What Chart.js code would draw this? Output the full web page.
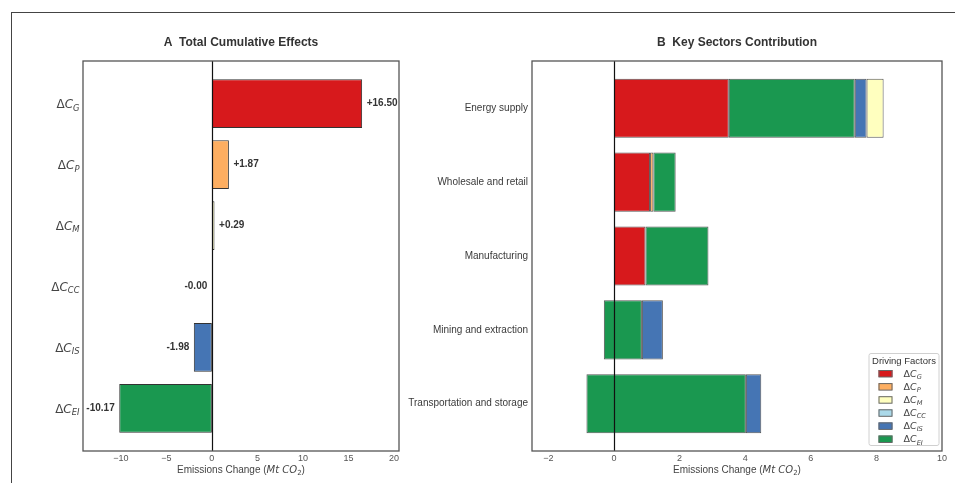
<!DOCTYPE html>
<html>
<head>
<meta charset="utf-8">
<title>Decomposition of emissions change</title>
<script src="https://cdn.jsdelivr.net/npm/chart.js@4.4.0/dist/chart.umd.min.js"></script>
<style>
  body { margin: 0; background: #fff; }
  #fig { position: relative; width: 955px; height: 483px; overflow: hidden; background: #fff; }
  #frame { position: absolute; left: 11px; top: 12px; right: -10px; bottom: -10px;
           border-top: 1.5px solid #444; border-left: 1.5px solid #444; }
  #effects { position: absolute; left: 0; top: 0; width: 470px; height: 483px; }
  #sectors { position: absolute; left: 380px; top: 0; width: 575px; height: 483px; }
</style>
</head>
<body>
<div id="fig">
  <div id="frame"></div>
  <canvas id="effects" width="470" height="483"></canvas>
  <canvas id="sectors" width="575" height="483"></canvas>
</div>
<script>
// ---- panel A: total cumulative effect per driving factor (Mt CO2)
const factorSubs = ['G', 'P', 'M', 'CC', 'IS', 'EI'];
const effectValues = [16.50, 1.87, 0.29, -0.004, -1.98, -10.17];
const effectTicks = [-10, -5, 0, 5, 10, 15, 20];

// ---- panel B: sector contributions, segments stacked from a start value
const sectors = ['Energy supply', 'Wholesale and retail', 'Manufacturing',
                 'Mining and extraction', 'Transportation and storage'];
const sectorStart = [0, 0, 0, -0.31, -0.84];
const sectorG  = [3.50, 1.10, 0.96, 0, 0];
const sectorP  = [0, 0.10, 0, 0, 0];
const sectorM  = [0.52, 0, 0, 0, 0];
const sectorCC = [0, 0, 0, 0, 0];
const sectorIS = [0.36, 0, 0, 0.64, 0.47];
const sectorEI = [3.84, 0.68, 1.92, 1.16, 4.86];
const sectorTicks = [-2, 0, 2, 4, 6, 8, 10];

// order in which segments are laid end to end inside a sector bar
const stackOrder = ['G', 'P', 'EI', 'IS', 'M', 'CC'];

const factorColors = {
  G: '#d7191c', P: '#fdae61', M: '#ffffbf', CC: '#abd9e9', IS: '#4575b4', EI: '#1a9850'
};

const SANS = '"Liberation Sans", Arial, sans-serif';
const MATH = '"DejaVu Sans", sans-serif';

// ΔC with an italic subscript, like mathtext
function drawDeltaC(ctx, sub, x, y, size, align, color) {
  const subSize = size * 0.7;
  ctx.font = `${size}px ${MATH}`;
  const wD = ctx.measureText('Δ').width;
  ctx.font = `italic ${size}px ${MATH}`;
  const wC = ctx.measureText('C').width;
  ctx.font = `italic ${subSize}px ${MATH}`;
  const wS = ctx.measureText(sub).width;
  const left = align === 'right' ? x - (wD + wC + wS) : x;
  const base = y + size * 0.36;
  ctx.fillStyle = color;
  ctx.textAlign = 'left';
  ctx.textBaseline = 'alphabetic';
  ctx.font = `${size}px ${MATH}`;
  ctx.fillText('Δ', left, base);
  ctx.font = `italic ${size}px ${MATH}`;
  ctx.fillText('C', left + wD, base);
  ctx.font = `italic ${subSize}px ${MATH}`;
  ctx.fillText(sub, left + wD + wC, base + size * 0.22);
}

function drawAxisTitle(ctx, cx, y) {
  const parts = [
    { t: 'Emissions Change (', f: `10px ${SANS}`, dy: 0 },
    { t: 'Mt CO', f: `italic 10px ${MATH}`, dy: 0 },
    { t: '2', f: `7px ${MATH}`, dy: 2.5 },
    { t: ')', f: `10px ${SANS}`, dy: 0 }
  ];
  let total = 0;
  parts.forEach(p => { ctx.font = p.f; p.w = ctx.measureText(p.t).width; total += p.w; });
  let x = cx - total / 2;
  ctx.fillStyle = '#444';
  ctx.textAlign = 'left';
  ctx.textBaseline = 'alphabetic';
  parts.forEach(p => {
    ctx.font = p.f;
    ctx.fillText(p.t, x, y + 3.5 + p.dy);
    x += p.w;
  });
}

// frame, zero line, titles and category labels for one panel
function makeDecor(title, drawLabels) {
  return {
    id: 'panelDecor',
    afterDatasetsDraw(chart) {
      const { ctx, chartArea: a } = chart;
      const x0 = Math.round(chart.scales.x.getPixelForValue(0)) + 0.5;
      ctx.save();
      ctx.strokeStyle = '#111';
      ctx.lineWidth = 1.2;
      ctx.beginPath();
      ctx.moveTo(x0, a.top);
      ctx.lineTo(x0, a.bottom);
      ctx.stroke();

      ctx.strokeStyle = '#555';
      ctx.lineWidth = 1.3;
      ctx.strokeRect(a.left, a.top, a.right - a.left, a.bottom - a.top);

      ctx.fillStyle = '#333';
      ctx.font = `bold 12px ${SANS}`;
      ctx.textAlign = 'center';
      ctx.textBaseline = 'middle';
      ctx.fillText(title, (a.left + a.right) / 2, 42.5);

      drawAxisTitle(ctx, (a.left + a.right) / 2, 469);
      drawLabels(chart);
      ctx.restore();
    }
  };
}

function xAxis(min, max, ticks) {
  return {
    type: 'linear',
    min: min,
    max: max,
    grid: { display: false, drawTicks: false },
    border: { display: false },
    afterBuildTicks: scale => { scale.ticks = ticks.map(v => ({ value: v })); },
    afterFit: scale => { scale.height = 32; },
    ticks: {
      padding: 2,
      color: '#555',
      font: { family: SANS, size: 9 },
      callback: v => String(v).replace('-', '\u2212')
    }
  };
}

function yAxis(min, max, count) {
  return {
    type: 'linear',
    display: false,
    reverse: true,
    offset: false,
    grace: 0,
    min: min,
    max: max,
    afterBuildTicks: scale => { scale.ticks = Array.from({ length: count }, (_, i) => ({ value: i })); }
  };
}

// ---------- panel A
const effectDecor = makeDecor('A  Total Cumulative Effects', chart => {
  const { ctx, chartArea: a, scales } = chart;
  effectValues.forEach((v, i) => {
    const y = scales.y.getPixelForValue(i);
    drawDeltaC(ctx, factorSubs[i], a.left - 3.5, y, 12, 'right', '#444');
    const text = v >= 0 ? '+' + v.toFixed(2) : v.toFixed(2);
    const x = scales.x.getPixelForValue(v + (v >= 0 ? 0.5 : -0.5));
    ctx.fillStyle = '#333';
    ctx.font = `bold 10px ${SANS}`;
    ctx.textAlign = v >= 0 ? 'left' : 'right';
    ctx.textBaseline = 'middle';
    ctx.fillText(text, x, y);
  });
});

new Chart(document.getElementById('effects'), {
  type: 'bar',
  data: {
    datasets: [{
      data: effectValues.map((v, i) => ({ x: v, y: i })),
      backgroundColor: factorSubs.map(s => factorColors[s]),
      borderColor: '#333',
      borderWidth: 1,
      borderSkipped: false,
      categoryPercentage: 1,
      barPercentage: 0.8
    }]
  },
  options: {
    indexAxis: 'y',
    responsive: false,
    animation: false,
    layout: { padding: { left: 83, right: 71, top: 61, bottom: 0 } },
    plugins: { legend: { display: false }, tooltip: { enabled: false } },
    scales: {
      x: xAxis(-14.15, 20.55, effectTicks),
      y: yAxis(-0.7, 5.7, factorSubs.length)
    }
  },
  plugins: [effectDecor]
});

// ---------- panel B
const sectorWidths = { G: sectorG, P: sectorP, M: sectorM, CC: sectorCC, IS: sectorIS, EI: sectorEI };
const segments = {};
const running = sectorStart.slice();
stackOrder.forEach(key => {
  segments[key] = [];
  sectorWidths[key].forEach((w, i) => {
    if (w !== 0) segments[key].push({ x: [running[i], running[i] + w], y: i });
    running[i] += w;
  });
});

const sectorDecor = makeDecor('B  Key Sectors Contribution', chart => {
  const { ctx, chartArea: a, scales } = chart;
  ctx.fillStyle = '#3a3a3a';
  ctx.font = `10px ${SANS}`;
  ctx.textAlign = 'right';
  ctx.textBaseline = 'middle';
  sectors.forEach((s, i) => ctx.fillText(s, a.left - 4, scales.y.getPixelForValue(i)));
});

const legendBox = {
  id: 'legendBox',
  afterDraw(chart) {
    const { ctx, chartArea: a } = chart;
    const bw = 70, bh = 92;
    const bx = a.right - 73.5, by = a.bottom - 98;
    ctx.save();
    ctx.fillStyle = 'rgba(255,255,255,0.85)';
    ctx.strokeStyle = '#d0d0d0';
    ctx.lineWidth = 1;
    ctx.beginPath();
    ctx.roundRect(bx + 0.5, by + 0.5, bw, bh, 2);
    ctx.fill();
    ctx.stroke();

    ctx.fillStyle = '#333';
    ctx.font = `9.5px ${SANS}`;
    ctx.textAlign = 'center';
    ctx.textBaseline = 'middle';
    ctx.fillText('Driving Factors', bx + bw / 2 + 0.5, by + 8.5);

    chart.data.datasets.forEach((ds, i) => {
      const y = by + 20.5 + i * 13.1;
      ctx.fillStyle = ds.backgroundColor;
      ctx.fillRect(bx + 10, y - 3.5, 14, 7);
      ctx.strokeStyle = '#666';
      ctx.strokeRect(bx + 10.5, y - 3, 13, 6.5);
      drawDeltaC(ctx, ds.label, bx + 35, y, 9.5, 'left', '#444');
    });
    ctx.restore();
  }
};

new Chart(document.getElementById('sectors'), {
  type: 'bar',
  data: {
    datasets: factorSubs.map(key => ({
      label: key,
      data: segments[key],
      backgroundColor: factorColors[key],
      borderColor: '#555',
      borderWidth: 1,
      borderSkipped: false,
      grouped: false,
      categoryPercentage: 1,
      barPercentage: 0.8
    }))
  },
  options: {
    indexAxis: 'y',
    responsive: false,
    animation: false,
    layout: { padding: { left: 152, right: 13, top: 61, bottom: 0 } },
    plugins: { legend: { display: false }, tooltip: { enabled: false } },
    scales: {
      x: xAxis(-2.5, 10, sectorTicks),
      y: yAxis(-0.64, 4.64, sectors.length)
    }
  },
  plugins: [sectorDecor, legendBox]
});
</script>
</body>
</html>
